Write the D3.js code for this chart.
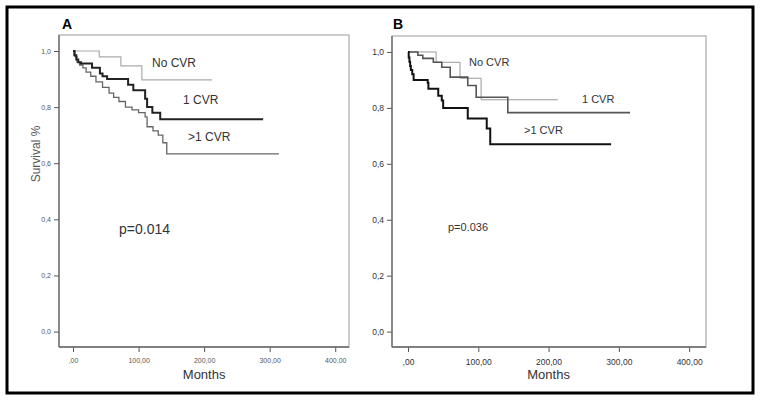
<!DOCTYPE html>
<html lang="en">
<head>
    <meta charset="UTF-8">
    <title>Survival by CVR</title>
    <script src="https://d3js.org/d3.v7.min.js"></script>
    <style>
        body {
            margin: 0;
            background: #fff;
            font-family: "Liberation Sans", Arial, sans-serif;
        }
        svg { display: block; }
    </style>
</head>
<body>
<div id="chart"></div>
<script>
    // axis ticks
    const monthTicks = [0, 100, 200, 300, 400];
    const monthLabels = [",00", "100,00", "200,00", "300,00", "400,00"];
    const survTicks = [0, 0.2, 0.4, 0.6, 0.8, 1.0];
    const survLabels = ["0,0", "0,2", "0,4", "0,6", "0,8", "1,0"];

    // panel A: [months, survival] step points
    const aNoCvr = [[0, 1], [40, 0.979], [73, 0.947], [105, 0.897], [212, 0.897]];
    const aOneCvr = [[0, 1], [2, 0.985], [5, 0.97], [8, 0.96], [12, 0.955], [29, 0.94], [41, 0.92],
        [45, 0.91], [52, 0.9], [84, 0.88], [92, 0.86], [110, 0.83], [113, 0.8], [121, 0.78],
        [133, 0.757], [290, 0.757]];
    const aMoreCvr = [[0, 1], [3, 0.98], [6, 0.96], [10, 0.95], [15, 0.94], [20, 0.925], [27, 0.91],
        [35, 0.89], [45, 0.87], [55, 0.85], [62, 0.835], [70, 0.82], [80, 0.8], [90, 0.79],
        [100, 0.78], [110, 0.765], [113, 0.73], [122, 0.715], [130, 0.7], [137, 0.673],
        [143, 0.633], [314, 0.633]];

    // panel B
    const bNoCvr = [[0, 1], [40, 0.963], [74, 0.906], [104, 0.829], [213, 0.829]];
    const bOneCvr = [[0, 1], [14, 0.988], [21, 0.977], [36, 0.963], [48, 0.945], [60, 0.91],
        [85, 0.88], [97, 0.838], [142, 0.783], [316, 0.783]];
    const bMoreCvr = [[0, 1], [1, 0.98], [2, 0.965], [3, 0.95], [4, 0.935], [6, 0.92], [8, 0.9],
        [28, 0.89], [29, 0.868], [43, 0.843], [48, 0.826], [50, 0.8], [85, 0.762],
        [112, 0.726], [117, 0.67], [289, 0.67]];

    const W = 762, H = 403;
    const svg = d3.select("#chart").append("svg").attr("width", W).attr("height", H);

    // outer frame
    svg.append("rect")
        .attr("x", 7).attr("y", 7).attr("width", 746).attr("height", 386)
        .attr("fill", "none").attr("stroke", "#000").attr("stroke-width", 3);

    const panels = [
        {
            letter: "A", letterX: 62,
            box: { l: 59, r: 349, t: 35, b: 347 },
            xDomain: [-21.4, 421],
            tickFont: 7, tickColor: "#555", monthsFont: 13,
            series: [
                { data: aNoCvr, color: "#aaa", w: 1.2 },
                { data: aMoreCvr, color: "#666", w: 1.3 },
                { data: aOneCvr, color: "#222", w: 2 }
            ],
            labels: [
                { text: "No CVR", x: 152, y: 63, size: 12 },
                { text: "1 CVR", x: 183, y: 100, size: 12 },
                { text: ">1 CVR", x: 188, y: 137, size: 12 },
                { text: "p=0.014", x: 119, y: 229, size: 14 }
            ],
            yTitle: true
        },
        {
            letter: "B", letterX: 393,
            box: { l: 392, r: 706, t: 36, b: 347 },
            xDomain: [-22.8, 424],
            tickFont: 8.5, tickColor: "#333", monthsFont: 13,
            series: [
                { data: bNoCvr, color: "#999", w: 1 },
                { data: bOneCvr, color: "#555", w: 1.6 },
                { data: bMoreCvr, color: "#111", w: 2 }
            ],
            labels: [
                { text: "No CVR", x: 469, y: 62, size: 11 },
                { text: "1 CVR", x: 582, y: 99, size: 11 },
                { text: ">1 CVR", x: 524, y: 130, size: 11 },
                { text: "p=0.036", x: 448, y: 227, size: 11 }
            ],
            yTitle: false
        }
    ];

    const yDomain = [-0.055, 1.057];

    panels.forEach(p => {
        const x = d3.scaleLinear().domain(p.xDomain).range([p.box.l, p.box.r]);
        const y = d3.scaleLinear().domain(yDomain).range([p.box.b, p.box.t]);
        const g = svg.append("g");

        // panel letter
        g.append("text")
            .attr("x", p.letterX).attr("y", 29)
            .attr("font-size", 14).attr("font-weight", "bold")
            .text(p.letter);

        // box (top/right lighter)
        g.append("rect")
            .attr("x", p.box.l).attr("y", p.box.t)
            .attr("width", p.box.r - p.box.l).attr("height", p.box.b - p.box.t)
            .attr("fill", "none").attr("stroke", "#aaa").attr("stroke-width", 1.2);

        const xAxis = g.append("g")
            .attr("transform", `translate(0,${p.box.b})`)
            .call(d3.axisBottom(x).tickValues(monthTicks).tickSize(5)
                .tickFormat((d, i) => monthLabels[i]));
        const yAxis = g.append("g")
            .attr("transform", `translate(${p.box.l},0)`)
            .call(d3.axisLeft(y).tickValues(survTicks).tickSize(5)
                .tickFormat((d, i) => survLabels[i]));

        [xAxis, yAxis].forEach(a => {
            a.select(".domain").remove();
            a.selectAll("line").attr("stroke", "#555");
            a.selectAll("text")
                .attr("font-family", "'Liberation Sans', Arial, sans-serif")
                .attr("font-size", p.tickFont).attr("fill", p.tickColor);
        });
        xAxis.selectAll("text").attr("dy", "1.2em");

        // darker left and bottom axis lines
        g.append("line")
            .attr("x1", p.box.l).attr("x2", p.box.l).attr("y1", p.box.t).attr("y2", p.box.b)
            .attr("stroke", "#666").attr("stroke-width", 1.3);
        g.append("line")
            .attr("x1", p.box.l).attr("x2", p.box.r).attr("y1", p.box.b).attr("y2", p.box.b)
            .attr("stroke", "#666").attr("stroke-width", 1.3);

        const line = d3.line()
            .x(d => x(d[0]))
            .y(d => y(d[1]))
            .curve(d3.curveStepAfter);

        p.series.forEach(s => {
            g.append("path")
                .datum(s.data)
                .attr("d", line)
                .attr("fill", "none")
                .attr("stroke", s.color)
                .attr("stroke-width", s.w);
        });

        p.labels.forEach(l => {
            g.append("text")
                .attr("x", l.x).attr("y", l.y)
                .attr("dy", "0.35em")
                .attr("font-size", l.size).attr("fill", "#333")
                .text(l.text);
        });

        g.append("text")
            .attr("x", (x(0) + x(400)) / 2).attr("y", 374)
            .attr("dy", "0.35em")
            .attr("text-anchor", "middle")
            .attr("font-size", p.monthsFont).attr("fill", "#333")
            .text("Months");

        if (p.yTitle) {
            g.append("text")
                .attr("transform", `translate(36,154) rotate(-90)`)
                .attr("dy", "0.35em")
                .attr("text-anchor", "middle")
                .attr("font-size", 12).attr("fill", "#555")
                .text("Survival %");
        }
    });
</script>
</body>
</html>
